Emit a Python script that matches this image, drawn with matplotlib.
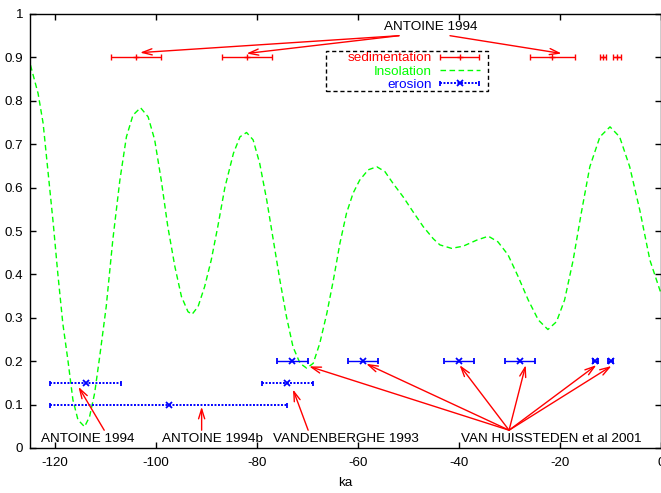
import matplotlib
matplotlib.use("Agg")
import matplotlib.pyplot as plt
from matplotlib.patches import Rectangle
from matplotlib.legend_handler import HandlerErrorbar

plt.rcParams['font.family'] = ['Liberation Sans', 'DejaVu Sans']
plt.rcParams['axes.unicode_minus'] = False

# sedimentation ages (ka) at y = 0.9
sed_x = [-104, -82, -21.5, -11.5, -8.7]
sed_y = [0.9, 0.9, 0.9, 0.9, 0.9]
sed_err = [5, 5, 4.5, 0.6, 0.8]

# erosion, long dotted bars
ero_x = [-114, -97.5, -74]
ero_y = [0.15, 0.1, 0.15]
ero_err = [7, 23.5, 5]

# erosion, short bars at 0.2
ero2_x = [-73, -59, -40, -28, -13, -10]
ero2_y = [0.2, 0.2, 0.2, 0.2, 0.2, 0.2]
ero2_err = [3, 3, 3, 3, 0.5, 0.5]

# insolation curve
ins_x = [-124.9, -123.4, -122.4, -121.4, -120.4, -119.5, -118.5, -117.5, -116.5, -115.5,
         -114.2, -113.2, -112.2, -111.2, -109.9, -108.6, -107.2, -105.9, -104.6, -103.1,
         -101.6, -100.3, -99.0, -97.7, -96.3, -95.0, -93.7, -92.9, -91.7, -90.4,
         -89.1, -87.8, -86.4, -84.7, -83.4, -82.1, -80.8, -79.5, -78.1, -76.8,
         -75.5, -74.2, -72.9, -71.5, -70.2, -68.9, -67.6, -66.2, -64.9, -63.6,
         -62.3, -61.0, -59.7, -58.0, -56.3, -54.7, -53.1, -51.1, -49.1, -47.1,
         -45.1, -43.8, -41.5, -39.2, -36.5, -34.2, -32.3, -30.3, -28.3, -26.3,
         -24.3, -22.4, -20.7, -19.1, -17.4, -15.8, -14.1, -12.1, -10.1, -8.2,
         -6.2, -4.2, -2.2, 0.0]
ins_y = [0.882, 0.817, 0.748, 0.633, 0.518, 0.403, 0.287, 0.203, 0.111, 0.065,
         0.049, 0.072, 0.126, 0.210, 0.326, 0.479, 0.617, 0.717, 0.767, 0.784,
         0.763, 0.710, 0.617, 0.510, 0.418, 0.349, 0.314, 0.308, 0.326, 0.372,
         0.433, 0.510, 0.600, 0.679, 0.717, 0.727, 0.710, 0.656, 0.571, 0.479,
         0.387, 0.303, 0.233, 0.195, 0.184, 0.195, 0.241, 0.310, 0.387, 0.472,
         0.541, 0.587, 0.617, 0.641, 0.648, 0.637, 0.610, 0.579, 0.544, 0.510,
         0.482, 0.468, 0.460, 0.465, 0.479, 0.488, 0.475, 0.445, 0.395, 0.341,
         0.295, 0.273, 0.291, 0.341, 0.433, 0.541, 0.648, 0.717, 0.740, 0.717,
         0.648, 0.548, 0.433, 0.356]

# labels (text, x, y) and arrows (from, to)
labels = [("ANTOINE 1994", -54.9, 0.97),
          ("ANTOINE 1994", -122.8, 0.021),
          ("ANTOINE 1994b", -98.9, 0.021),
          ("VANDENBERGHE 1993", -76.8, 0.021),
          ("VAN HUISSTEDEN et al 2001", -39.7, 0.021)]
arrows = [((-51.9, 0.95), (-103.2, 0.911)),
          ((-51.9, 0.95), (-82.1, 0.909)),
          ((-41.8, 0.95), (-19.7, 0.909)),
          ((-110.3, 0.041), (-115.4, 0.141)),
          ((-91.0, 0.041), (-91.0, 0.095)),
          ((-69.9, 0.041), (-72.9, 0.135)),
          ((-30.1, 0.041), (-69.7, 0.188)),
          ((-30.1, 0.041), (-58.4, 0.194)),
          ((-30.1, 0.041), (-39.9, 0.191)),
          ((-30.1, 0.041), (-26.8, 0.191)),
          ((-30.1, 0.041), (-12.8, 0.191)),
          ((-30.1, 0.041), (-9.8, 0.189))]

fig = plt.figure(figsize=(6.61, 4.93), dpi=100)
ax = fig.add_axes([30 / 661, 45 / 493, 631 / 661, 434 / 493])

sed = ax.errorbar(sed_x, sed_y, xerr=sed_err, fmt='+', color='#ff0000', ms=5, mew=1,
                  elinewidth=1, capsize=2.4, capthick=1, label='sedimentation')
ins, = ax.plot(ins_x, ins_y, color='#00ff00', lw=1, ls=(0, (4, 2.5)), label='Insolation')
ero = ax.errorbar(ero_x, ero_y, xerr=ero_err, fmt='x', color='#0000ff', ms=4.5, mew=1.3,
                  elinewidth=1.4, capsize=1.8, capthick=1.2, label='erosion')
ero[2][0].set_linestyle((0, (1, 0.8)))
ax.errorbar(ero2_x, ero2_y, xerr=ero2_err, fmt='x', color='#0000ff', ms=4.5, mew=1.3,
            elinewidth=1, capsize=2.2, capthick=1)

for txt, x, y in labels:
    ax.text(x, y, txt, ha='left', va='center', fontsize=9.7)
for (x0, y0), (x1, y1) in arrows:
    ax.annotate('', xy=(x1, y1), xytext=(x0, y0),
                arrowprops=dict(arrowstyle='->,head_length=0.7,head_width=0.22',
                                color='#ff0000', lw=1, shrinkA=0, shrinkB=0),
                annotation_clip=False)

ax.set_xlim(-125, 0)
ax.set_ylim(0, 1)
ax.set_xticks(range(-120, 1, 20))
ax.set_yticks([i / 10 for i in range(11)])
ax.yaxis.set_major_formatter(matplotlib.ticker.FormatStrFormatter('%g'))
ax.tick_params(direction='in', length=4.3, width=1, top=True, right=True, labelsize=9.6, pad=5)
ax.tick_params(axis='x', pad=6.5)
for s in ax.spines.values():
    s.set_linewidth(1)
ax.set_xlabel('ka', fontsize=9.7, labelpad=5.5)

# key box
ax.add_patch(Rectangle((-66.4, 0.823), 32.1, 0.092, fill=False, ec='black', lw=1,
                       ls=(0, (3, 2)), zorder=5))
leg = ax.legend([sed, ins, ero], ['sedimentation', 'Insolation', 'erosion'],
                loc='upper right', bbox_to_anchor=(480 / 661, 1 - 52 / 493),
                bbox_transform=fig.transFigure, frameon=False, markerfirst=False,
                borderpad=0, borderaxespad=0, labelspacing=0.05, handlelength=3.0,
                handletextpad=0.6, fontsize=9.7,
                handler_map={sed: HandlerErrorbar(xerr_size=1.45),
                             ero: HandlerErrorbar(xerr_size=1.45)})
for t, c in zip(leg.get_texts(), ['#ff0000', '#00ff00', '#0000ff']):
    t.set_color(c)

fig.savefig('out.png', dpi=100)
